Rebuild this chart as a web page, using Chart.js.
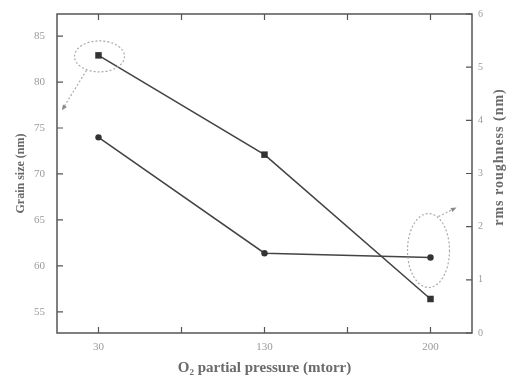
<!DOCTYPE html>
<html>
<head>
<meta charset="utf-8">
<script src="https://cdn.jsdelivr.net/npm/chart.js@4/dist/chart.umd.min.js"></script>
<style>
  html, body { margin: 0; padding: 0; background: #fff; }
  #wrap { width: 506px; height: 380px; position: relative; }
</style>
</head>
<body>
<div id="wrap"><canvas id="chart"></canvas></div>
<script>
// data
const pressures = ['30', '130', '200'];
const xTickLabels = ['30', '', '130', '', '200'];
const grainSize = [82.9, 72.1, 56.4];      // nm, left axis (squares)
const rmsRoughness = [3.68, 1.50, 1.42];   // nm, right axis (circles)
const grainTicks = [55, 60, 65, 70, 75, 80, 85];
const rmsTicks = [0, 1, 2, 3, 4, 5, 6];

const SERIF = '"Liberation Serif", "DejaVu Serif", serif';
const frameColor = '#555';
const lineColor = '#444';
const tickText = '#9a9a9a';
const titleText = '#6a6a6a';

// pressures sit on every other tick of the bottom axis
const xPos = i => i * 2;

const grainData = pressures.map((p, i) => ({ x: xPos(i), y: grainSize[i] }));
const rmsData = pressures.map((p, i) => ({ x: xPos(i), y: rmsRoughness[i] }));

// fixed box size for a scale, without the extra label padding
const fixWidth = w => s => { s.width = w; s.paddingTop = 0; s.paddingBottom = 0; };

// frame, inward ticks, right title and the dotted callouts
const decorPlugin = {
    id: 'decor',
    afterDraw(chart) {
        const { ctx, chartArea: a, scales } = chart;
        const tl = 6;
        ctx.save();
        ctx.strokeStyle = frameColor;
        ctx.lineWidth = 1.5;
        ctx.strokeRect(a.left, a.top, a.right - a.left, a.bottom - a.top);

        ctx.lineWidth = 1.2;
        ctx.beginPath();
        scales.x.ticks.forEach(t => {
            const px = scales.x.getPixelForValue(t.value);
            ctx.moveTo(px, a.bottom); ctx.lineTo(px, a.bottom - tl);
            ctx.moveTo(px, a.top); ctx.lineTo(px, a.top + tl);
        });
        scales.y.ticks.forEach(t => {
            const py = scales.y.getPixelForValue(t.value);
            ctx.moveTo(a.left, py); ctx.lineTo(a.left + tl, py);
        });
        scales.y1.ticks.forEach(t => {
            const py = scales.y1.getPixelForValue(t.value);
            ctx.moveTo(a.right, py); ctx.lineTo(a.right - tl, py);
        });
        ctx.stroke();

        // right axis title reads bottom to top
        ctx.fillStyle = titleText;
        ctx.font = 'bold 14px ' + SERIF;
        ctx.textAlign = 'center';
        ctx.textBaseline = 'middle';
        ctx.translate(499, 157);
        ctx.rotate(-Math.PI / 2);
        ctx.letterSpacing = '1px';
        ctx.fillText('rms roughness (nm)', 0, 0);
        ctx.restore();

        // dotted callouts
        const sx = scales.x.getPixelForValue(xPos(0));
        const sy = scales.y.getPixelForValue(grainSize[0]);
        const cx = scales.x.getPixelForValue(xPos(2));
        const cy = scales.y1.getPixelForValue(rmsRoughness[2]);
        ctx.save();
        ctx.strokeStyle = '#aaa';
        ctx.fillStyle = '#888';
        ctx.lineWidth = 1.2;
        ctx.setLineDash([2, 2]);
        ctx.beginPath();
        ctx.ellipse(sx + 1, sy + 1, 25, 15.5, 0, 0, Math.PI * 2);
        ctx.stroke();
        ctx.beginPath();
        ctx.moveTo(sx - 12, sy + 15);
        ctx.lineTo(a.left + 6, sy + 53);
        ctx.stroke();
        ctx.beginPath();
        ctx.ellipse(cx - 2, cy - 7, 21, 37, 0, 0, Math.PI * 2);
        ctx.stroke();
        ctx.beginPath();
        ctx.moveTo(cx + 8, cy - 41);
        ctx.lineTo(cx + 22, cy - 48);
        ctx.stroke();
        ctx.setLineDash([]);
        const head = (x, y, ang) => {
            ctx.beginPath();
            ctx.moveTo(x, y);
            ctx.lineTo(x - 6 * Math.cos(ang - 0.4), y - 6 * Math.sin(ang - 0.4));
            ctx.lineTo(x - 6 * Math.cos(ang + 0.4), y - 6 * Math.sin(ang + 0.4));
            ctx.closePath();
            ctx.fill();
        };
        head(a.left + 5, sy + 55, Math.atan2(38, -(sx - 12 - a.left - 6)));
        head(cx + 26, cy - 50, Math.atan2(-7, 14));
        ctx.restore();
    }
};

new Chart(document.getElementById('chart'), {
    type: 'line',
    data: {
        datasets: [
            {
                label: 'Grain size',
                data: grainData,
                yAxisID: 'y',
                borderColor: lineColor,
                borderWidth: 1.6,
                pointStyle: 'rect',
                pointRadius: 4.6,
                pointBackgroundColor: '#333',
                pointBorderColor: '#333',
                pointBorderWidth: 0,
                tension: 0
            },
            {
                label: 'rms roughness',
                data: rmsData,
                yAxisID: 'y1',
                borderColor: lineColor,
                borderWidth: 1.6,
                pointStyle: 'circle',
                pointRadius: 3.2,
                pointBackgroundColor: '#333',
                pointBorderColor: '#333',
                pointBorderWidth: 0,
                tension: 0
            }
        ]
    },
    options: {
        responsive: true,
        maintainAspectRatio: false,
        animation: false,
        layout: { padding: { top: 14, left: 0, right: 0, bottom: 0 } },
        plugins: {
            legend: { display: false },
            tooltip: { enabled: false }
        },
        scales: {
            x: {
                type: 'linear',
                min: -0.5,
                max: 4.5,
                afterBuildTicks: s => { s.ticks = xTickLabels.map((l, i) => ({ value: i })); },
                afterFit: s => { s.height = 47; s.paddingLeft = 0; s.paddingRight = 0; },
                grid: { display: false, drawTicks: false },
                border: { display: false },
                ticks: {
                    padding: 8,
                    color: tickText,
                    font: { family: SERIF, size: 11 },
                    callback: v => xTickLabels[v]
                },
                title: {
                    display: true,
                    text: 'O\u2082 partial pressure (mtorr)',
                    color: titleText,
                    font: { family: SERIF, size: 15, weight: 'bold' },
                    padding: { top: 0, bottom: 3 }
                }
            },
            y: {
                position: 'left',
                min: 52.7,
                max: 87.4,
                afterBuildTicks: s => { s.ticks = grainTicks.map(v => ({ value: v })); },
                afterFit: fixWidth(57),
                grid: { display: false, drawTicks: false },
                border: { display: false },
                ticks: {
                    padding: 12,
                    color: tickText,
                    font: { family: SERIF, size: 11 }
                },
                title: {
                    display: true,
                    text: 'Grain size (nm)',
                    color: titleText,
                    font: { family: SERIF, size: 12, weight: 'bold' },
                    padding: { top: 14, bottom: 0 }
                }
            },
            y1: {
                position: 'right',
                min: 0,
                max: 6,
                afterBuildTicks: s => { s.ticks = rmsTicks.map(v => ({ value: v })); },
                afterFit: fixWidth(34),
                grid: { display: false, drawTicks: false },
                border: { display: false },
                ticks: {
                    padding: 6,
                    color: tickText,
                    font: { family: SERIF, size: 10 }
                }
            }
        }
    },
    plugins: [decorPlugin]
});
</script>
</body>
</html>
